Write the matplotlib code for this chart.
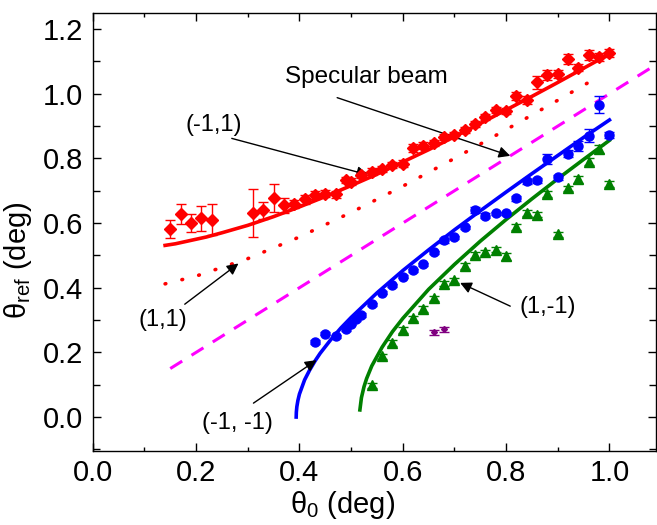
import matplotlib
matplotlib.use("Agg")
import matplotlib.pyplot as plt
from matplotlib.ticker import MultipleLocator, FormatStrFormatter

plt.rcParams["font.family"] = ["Liberation Sans", "DejaVu Sans"]
plt.rcParams["mathtext.fontset"] = "custom"
plt.rcParams["mathtext.rm"] = "Liberation Sans"
plt.rcParams["mathtext.it"] = "Liberation Sans"

# ===== DATA =====
# (-1,1) measured
red_x = [0.15, 0.17, 0.19, 0.21, 0.23, 0.31, 0.33, 0.35, 0.37, 0.39, 0.41, 0.43, 0.45, 0.47,
         0.49, 0.50, 0.52, 0.54, 0.56, 0.58, 0.60, 0.62, 0.64, 0.66, 0.68, 0.70, 0.72, 0.74,
         0.76, 0.78, 0.80, 0.82, 0.84, 0.86, 0.88, 0.90, 0.92, 0.94, 0.96, 0.98, 1.00]
red_y = [0.581, 0.627, 0.601, 0.615, 0.611, 0.630, 0.640, 0.677, 0.655, 0.659, 0.673, 0.688, 0.691, 0.689,
         0.733, 0.728, 0.749, 0.759, 0.767, 0.780, 0.784, 0.833, 0.840, 0.847, 0.867, 0.873, 0.888, 0.907,
         0.928, 0.950, 0.947, 0.994, 0.981, 1.035, 1.059, 1.061, 1.107, 1.081, 1.121, 1.113, 1.126]
red_err = [0.027, 0.031, 0.028, 0.039, 0.047, 0.074, 0.026, 0.043, 0.023, 0.012, 0.015, 0.012, 0.010, 0.010,
           0.010, 0.010, 0.010, 0.010, 0.010, 0.010, 0.010, 0.012, 0.012, 0.010, 0.010, 0.010, 0.010, 0.010,
           0.010, 0.010, 0.010, 0.012, 0.012, 0.020, 0.015, 0.012, 0.015, 0.012, 0.015, 0.012, 0.012]

# (-1,-1) measured
blue_x = [0.43, 0.45, 0.47, 0.49, 0.50, 0.51, 0.52, 0.54, 0.56, 0.58, 0.60, 0.62, 0.64, 0.66, 0.68,
          0.70, 0.72, 0.74, 0.76, 0.78, 0.80, 0.82, 0.84, 0.86, 0.88, 0.90, 0.92, 0.94, 0.96, 0.98, 1.00]
blue_y = [0.232, 0.258, 0.250, 0.271, 0.289, 0.302, 0.316, 0.349, 0.385, 0.408, 0.434, 0.454, 0.472, 0.509, 0.547,
          0.556, 0.587, 0.640, 0.623, 0.630, 0.630, 0.677, 0.729, 0.732, 0.799, 0.742, 0.815, 0.839, 0.870, 0.966, 0.873]
blue_err = [0.005, 0.005, 0.005, 0.005, 0.005, 0.005, 0.005, 0.005, 0.005, 0.005, 0.005, 0.005, 0.005, 0.005, 0.008,
            0.005, 0.005, 0.010, 0.008, 0.005, 0.005, 0.008, 0.008, 0.008, 0.015, 0.008, 0.010, 0.015, 0.020, 0.026, 0.010]

# (1,-1) measured
green_x = [0.54, 0.56, 0.58, 0.60, 0.62, 0.64, 0.66, 0.68, 0.70, 0.72, 0.74, 0.76,
           0.78, 0.80, 0.82, 0.84, 0.86, 0.88, 0.90, 0.92, 0.94, 0.96, 0.98, 1.00]
green_y = [0.098, 0.188, 0.229, 0.269, 0.305, 0.334, 0.367, 0.413, 0.423, 0.467, 0.501, 0.510,
           0.518, 0.497, 0.588, 0.631, 0.626, 0.690, 0.565, 0.708, 0.735, 0.790, 0.829, 0.721]
green_err = [0.008, 0.008, 0.008, 0.008, 0.008, 0.008, 0.008, 0.008, 0.008, 0.008, 0.008, 0.008,
             0.008, 0.010, 0.008, 0.010, 0.008, 0.010, 0.008, 0.008, 0.010, 0.010, 0.012, 0.008]

# stray points
purple_x = [0.66, 0.68]
purple_y = [0.262, 0.271]
purple_err = [0.008, 0.008]

# model curves
c_m1p1_x = [0.14, 0.16, 0.18, 0.20, 0.22, 0.25, 0.30, 0.35, 0.40, 0.45, 0.50, 0.55,
            0.60, 0.65, 0.70, 0.75, 0.80, 0.85, 0.90, 0.95, 1.00]
c_m1p1_y = [0.531, 0.536, 0.543, 0.550, 0.557, 0.570, 0.593, 0.620, 0.650, 0.682, 0.716, 0.751,
            0.789, 0.827, 0.867, 0.908, 0.950, 0.992, 1.035, 1.079, 1.123]

c_p1p1_x = [0.14, 0.2, 0.3, 0.4, 0.5, 0.6, 0.7, 0.8, 0.9, 0.98]
c_p1p1_y = [0.412, 0.436, 0.490, 0.557, 0.633, 0.714, 0.800, 0.889, 0.980, 1.054]

spec_x = [0.15, 1.10]
spec_y = [0.15, 1.10]

c_m1m1_x = [0.3937, 0.394, 0.395, 0.397, 0.40, 0.41, 0.42, 0.43, 0.44, 0.46, 0.48, 0.50,
            0.55, 0.60, 0.65, 0.70, 0.75, 0.80, 0.85, 0.90, 0.95, 1.00]
c_m1m1_y = [0.000, 0.015, 0.032, 0.051, 0.071, 0.115, 0.146, 0.173, 0.197, 0.238, 0.275, 0.308,
            0.384, 0.453, 0.517, 0.579, 0.638, 0.696, 0.753, 0.809, 0.865, 0.919]

c_p1m1_x = [0.517, 0.52, 0.525, 0.53, 0.54, 0.56, 0.58, 0.60, 0.65, 0.70,
            0.75, 0.80, 0.85, 0.90, 0.95, 1.00]
c_p1m1_y = [0.022, 0.060, 0.094, 0.119, 0.158, 0.216, 0.264, 0.305, 0.395, 0.472,
            0.544, 0.611, 0.675, 0.737, 0.797, 0.856]

RED, BLUE, GREEN, MAG, PURP = "#ff0000", "#0000ff", "#008000", "#ff00ff", "#800080"

# ===== PLOT =====
fig = plt.figure(figsize=(6.57, 5.25), dpi=100)
ax = fig.add_axes([0.1412, 0.141, 0.8572, 0.8343])

ax.plot(c_m1p1_x, c_m1p1_y, color=RED, lw=2.6, zorder=2)
ax.plot(c_p1p1_x, c_p1p1_y, color=RED, lw=2.6, dashes=(0.2, 4.6), dash_capstyle="round", zorder=2)
ax.plot(spec_x, spec_y, color=MAG, lw=2.2, dashes=(4.6, 3.6), zorder=2)
ax.plot(c_m1m1_x, c_m1m1_y, color=BLUE, lw=2.6, zorder=2)
ax.plot(c_p1m1_x, c_p1m1_y, color=GREEN, lw=2.6, zorder=2)

eb = dict(ls="none", elinewidth=1, capsize=3.5, capthick=1, zorder=3)
ax.errorbar(red_x, red_y, yerr=red_err, fmt="D", color=RED, ms=6.5, **eb)
ax.errorbar(blue_x, blue_y, yerr=blue_err, fmt="o", color=BLUE, ms=6.5, **eb)
ax.errorbar(green_x, green_y, yerr=green_err, fmt="^", color=GREEN, ms=6.5, **eb)
ax.errorbar(purple_x, purple_y, yerr=purple_err, fmt="D", color=PURP, ms=3, **eb)

# labels + arrows
arrow = dict(arrowstyle="-|>", color="k", lw=1, mutation_scale=17, shrinkA=0, shrinkB=0)
ax.text(0.372, 1.053, "Specular beam", fontsize=17.5, ha="left", va="center")
ax.annotate("", xy=(0.808, 0.808), xytext=(0.473, 0.988), arrowprops=arrow)
ax.text(0.179, 0.904, "(-1,1)", fontsize=17, ha="left", va="center")
ax.annotate("", xy=(0.533, 0.749), xytext=(0.269, 0.862), arrowprops=arrow)
ax.text(0.088, 0.300, "(1,1)", fontsize=17, ha="left", va="center")
ax.annotate("", xy=(0.282, 0.475), xytext=(0.178, 0.349), arrowprops=arrow)
ax.text(0.211, -0.020, "(-1, -1)", fontsize=17, ha="left", va="center")
ax.annotate("", xy=(0.433, 0.176), xytext=(0.311, 0.043), arrowprops=arrow)
ax.text(0.826, 0.341, "(1,-1)", fontsize=17, ha="left", va="center")
ax.annotate("", xy=(0.711, 0.415), xytext=(0.808, 0.343), arrowprops=arrow)

ax.set_xlim(0, 1.09)
ax.set_ylim(-0.105, 1.25)
ax.xaxis.set_major_locator(MultipleLocator(0.2))
ax.xaxis.set_minor_locator(MultipleLocator(0.1))
ax.yaxis.set_major_locator(MultipleLocator(0.2))
ax.yaxis.set_minor_locator(MultipleLocator(0.1))
ax.xaxis.set_major_formatter(FormatStrFormatter("%.1f"))
ax.yaxis.set_major_formatter(FormatStrFormatter("%.1f"))
ax.tick_params(which="both", direction="in", top=True, right=True, width=1, labelsize=21)
ax.tick_params(axis="x", which="major", length=6, pad=6)
ax.tick_params(axis="x", which="minor", length=3)
ax.tick_params(axis="y", which="major", length=5.5, pad=7)
ax.tick_params(axis="y", which="minor", length=5)
for s in ax.spines.values():
    s.set_linewidth(1)

ax.set_xlabel(r"$\mathregular{\theta_0}$ (deg)", fontsize=21)
ax.set_ylabel(r"$\mathregular{\theta_{ref}}$ (deg)", fontsize=21)
ax.xaxis.set_label_coords(0.444, -0.087)
ax.yaxis.set_label_coords(-0.105, 0.436)

fig.savefig("out.png", dpi=100)
